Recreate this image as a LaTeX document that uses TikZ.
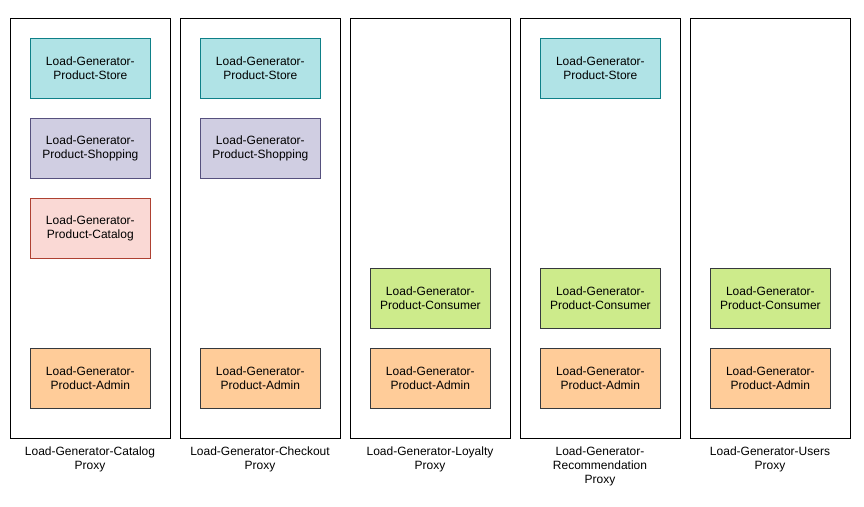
\documentclass[tikz,border=0pt]{standalone}
\usepackage{fontspec}
\setmainfont{Liberation Sans}
\definecolor{storeF}{HTML}{B0E3E6}\definecolor{storeD}{HTML}{0E8088}
\definecolor{shopF}{HTML}{D0CEE2}\definecolor{shopD}{HTML}{56517E}
\definecolor{catF}{HTML}{FAD9D5}\definecolor{catD}{HTML}{AE4132}
\definecolor{consF}{HTML}{CDEB8B}\definecolor{consD}{HTML}{36393D}
\definecolor{admF}{HTML}{FFCC99}\definecolor{admD}{HTML}{36393D}
\begin{document}
\begin{tikzpicture}[x=1pt,y=-1pt,
  every node/.style={font=\fontsize{12}{14}\selectfont},
  container/.style={draw=black, line width=0.8pt, minimum width=160pt, minimum height=420pt, inner sep=0pt, anchor=north west},
  gen/.style={draw, line width=0.7pt, minimum width=120pt, minimum height=60pt, inner sep=0pt, align=center, anchor=north west, yshift=-1pt},
  store/.style={gen, fill=storeF, draw=storeD},
  shop/.style={gen, fill=shopF, draw=shopD},
  cat/.style={gen, fill=catF, draw=catD},
  cons/.style={gen, fill=consF, draw=consD},
  adm/.style={gen, fill=admF, draw=admD},
  caption/.style={align=center, anchor=north, inner sep=0pt}]
\useasboundingbox[fill=white] (0,0) rectangle (864,506);
% containers
\node[container] (c1) at (10,18) {};
\node[container] (c2) at (180,18) {};
\node[container] (c3) at (350,18) {};
\node[container] (c4) at (520,18) {};
\node[container] (c5) at (690,18) {};
% column 1
\node[store] (s1) at (30,37) {Load-Generator-\\Product-Store};
\node[shop] (h1) at (30,117) {Load-Generator-\\Product-Shopping};
\node[cat] (k1) at (30,197) {Load-Generator-\\Product-Catalog};
\node[adm] (a1) at (30,347) {Load-Generator-\\Product-Admin};
% column 2
\node[store] (s2) at (200,37) {Load-Generator-\\Product-Store};
\node[shop] (h2) at (200,117) {Load-Generator-\\Product-Shopping};
\node[adm] (a2) at (200,347) {Load-Generator-\\Product-Admin};
% column 3
\node[cons] (n3) at (370,267) {Load-Generator-\\Product-Consumer};
\node[adm] (a3) at (370,347) {Load-Generator-\\Product-Admin};
% column 4
\node[store] (s4) at (540,37) {Load-Generator-\\Product-Store};
\node[cons] (n4) at (540,267) {Load-Generator-\\Product-Consumer};
\node[adm] (a4) at (540,347) {Load-Generator-\\Product-Admin};
% column 5
\node[cons] (n5) at (710,267) {Load-Generator-\\Product-Consumer};
\node[adm] (a5) at (710,347) {Load-Generator-\\Product-Admin};
% captions
\node[caption] (l1) at (90,447) {Load-Generator-Catalog\\Proxy};
\node[caption] (l2) at (260,447) {Load-Generator-Checkout\\Proxy};
\node[caption] (l3) at (430,447) {Load-Generator-Loyalty\\Proxy};
\node[caption] (l4) at (600,447) {Load-Generator-\\Recommendation\\Proxy};
\node[caption] (l5) at (770,447) {Load-Generator-Users\\Proxy};
\end{tikzpicture}
\end{document}
